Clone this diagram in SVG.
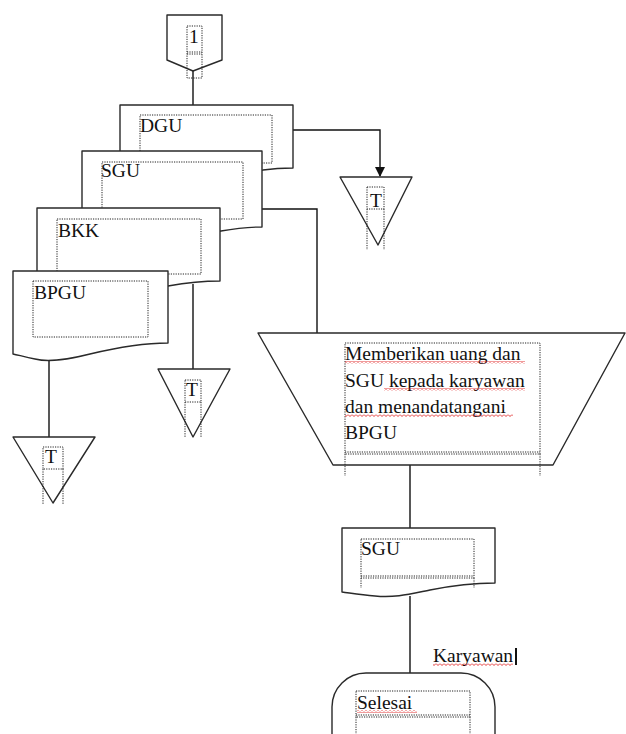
<svg xmlns="http://www.w3.org/2000/svg" width="626" height="734" viewBox="0 0 626 734">
<style>
.s{fill:#fff;stroke:#2a2a2a;stroke-width:1.4;stroke-linejoin:round}
.c{fill:none;stroke:#111;stroke-width:1.4}
.d{fill:none;stroke:#222;stroke-width:1;stroke-dasharray:1.2 1.2}
.t{font-family:"Liberation Serif","Times New Roman",serif;font-size:19.5px;fill:#111}
.w{fill:url(#wave)}
</style>
<defs>
<pattern id="wave" patternUnits="userSpaceOnUse" width="4" height="3">
<path d="M0,0.5 L2,2.5 L4,0.5" fill="none" stroke="#e02020" stroke-width="0.9"/>
</pattern>
<marker id="ah" markerWidth="10" markerHeight="10" refX="9" refY="5" orient="auto" markerUnits="userSpaceOnUse">
<path d="M0,0 L10,5 L0,10 Z" fill="#111"/>
</marker>
</defs>

<g id="connectors">
<path class="c" d="M193,71 V105"/>
<path class="c" d="M293,130 H380 V176" marker-end="url(#ah)"/>
<path class="c" d="M262,209 H317 V333"/>
<path class="c" d="M193,284 V369"/>
<path class="c" d="M49,361 V437"/>
<path class="c" d="M410,465 V528"/>
<path class="c" d="M410,596 V673"/>
</g>

<g id="node-1">
<path class="s" d="M167,15 H222 V60 L193,71 L167,60 Z"/>
<path class="d" d="M187,26 H202 V78 H187 Z M187,52 H202 M187,54 H202"/>
<text class="t" x="189" y="43">1</text>
</g>

<g id="node-dgu">
<path class="s" d="M120,105 H293 V168 C280,168 270,169 263,170 C230,173 200,180 175,178 C150,176 135,172 120,171 Z"/>
<path class="d" d="M140,115 H272 V163 H140 Z"/>
<text class="t" x="140" y="132">DGU</text>
</g>

<g id="node-sgu">
<path class="s" d="M82,151 H262 V227 C245,227 232,229 221,231 C190,236 160,240 130,237 C110,235 95,232 82,230 Z"/>
<path class="d" d="M102,162 H243 V219 H102 Z"/>
<text class="t" x="101" y="177">SGU</text>
</g>

<g id="node-bkk">
<path class="s" d="M37,208 H220 V281 C200,281 185,283 168,286 C140,292 110,294 80,290 C60,288 48,286 37,284 Z"/>
<path class="d" d="M57,219 H201 V274 H57 Z"/>
<text class="t" x="58" y="237">BKK</text>
</g>

<g id="node-bpgu">
<path class="s" d="M13,271 H168 V343 C140,343 115,348 90,354 C70,359 50,363 35,359 C25,357 18,355 13,354 Z"/>
<path class="d" d="M33,281 H148 V337 H33 Z"/>
<text class="t" x="34" y="299">BPGU</text>
</g>

<g id="node-t1">
<path class="s" d="M340,177 H412 L378,245 Z"/>
<path class="d" d="M367,187 H384 V209 H367 Z M367,209 V250 M384,209 V250"/>
<text class="t" x="370" y="207">T</text>
</g>

<g id="node-t2">
<path class="s" d="M158,369 H230 L193,437 Z"/>
<path class="d" d="M185,380 H201 V402 H185 Z M185,402 V438 M201,402 V438"/>
<text class="t" x="186" y="396">T</text>
</g>

<g id="node-t3">
<path class="s" d="M13,437 H95 L53,503 Z"/>
<path class="d" d="M43,447 H63 V469 H43 Z M43,469 V505 M63,469 V505"/>
<text class="t" x="45" y="463">T</text>
</g>

<g id="node-manual">
<path class="s" d="M258,333 H625 L553,465 H333 Z"/>
<path class="d" d="M345,343 H540 V454 H345 Z M345,452 H540 M345,454 V476 M540,454 V476"/>
<text class="t" x="345" y="360">Memberikan uang dan</text>
<text class="t" x="345" y="387">SGU kepada karyawan</text>
<text class="t" x="345" y="413">dan menandatangani</text>
<text class="t" x="345" y="439">BPGU</text>
<rect class="w" x="345" y="361" width="180" height="3"/>
<rect class="w" x="384" y="388" width="141" height="3"/>
<rect class="w" x="345" y="414" width="168" height="3"/>
</g>

<g id="node-sgu2">
<path class="s" d="M342,528 H495 V583 C470,583 450,586 430,590 C410,594 395,598 375,596 C360,595 350,593 342,592 Z"/>
<path class="d" d="M361,539 H474 V578 H361 Z M361,576 H474 M361,578 V588 M474,578 V588"/>
<text class="t" x="361" y="555">SGU</text>
</g>

<g id="node-selesai">
<rect class="s" x="332" y="673" width="163" height="100" rx="34"/>
<path class="d" d="M356,691 H470 V717 H356 Z M356,715 H470 M356,717 V734 M470,717 V734"/>
<text class="t" x="357" y="709">Selesai</text>
<rect class="w" x="357" y="710" width="60" height="3"/>
</g>

<g id="label-karyawan">
<text class="t" x="433" y="662">Karyawan</text>
<rect class="w" x="433" y="663" width="80" height="3"/>
<rect x="515" y="648" width="2" height="17" fill="#111"/>
</g>
</svg>
